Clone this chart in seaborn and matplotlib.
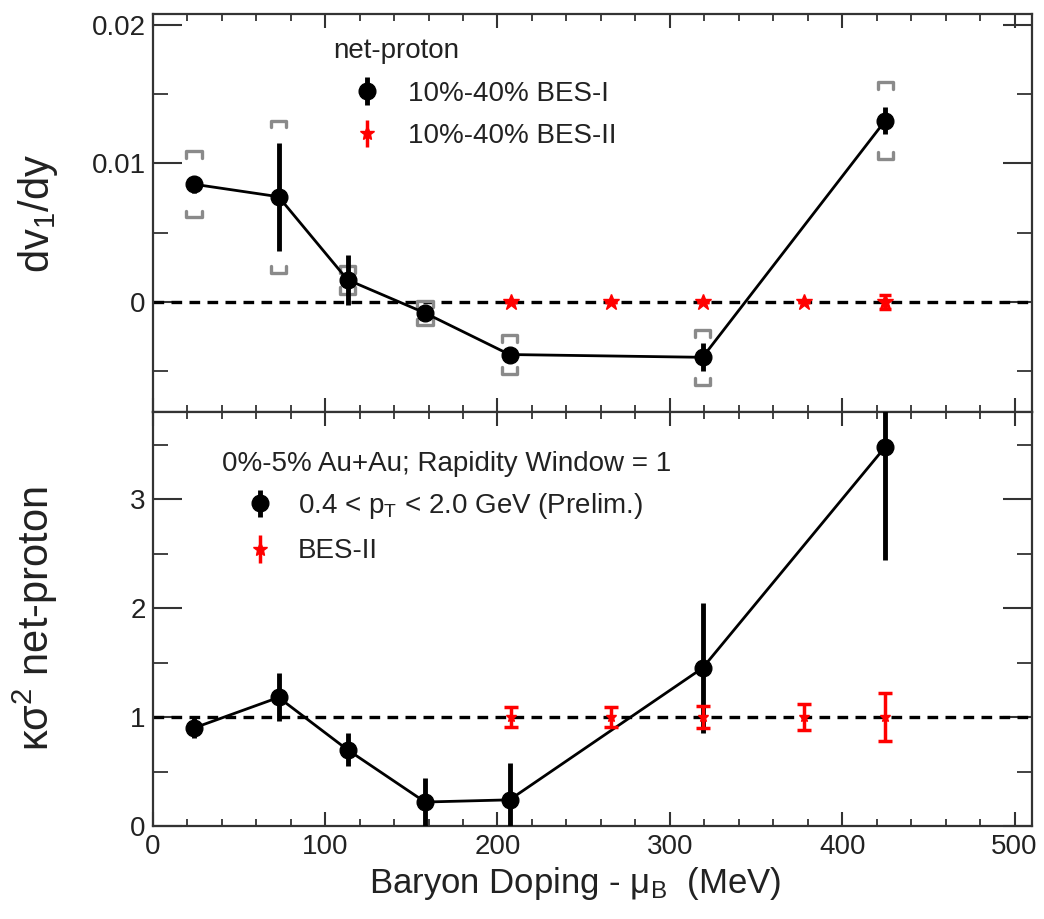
import matplotlib
matplotlib.use('Agg')
import matplotlib.pyplot as plt
from matplotlib.ticker import MultipleLocator, FuncFormatter
import seaborn as sns

# ---- top panel: dv1/dy of net-protons, 10%-40% ----
mu_b_bes1 = [24, 73, 113, 158, 207, 319, 425]
dv1dy = [0.0085, 0.0076, 0.0016, -0.0008, -0.0038, -0.0040, 0.0131]
dv1dy_stat = [0.0006, 0.0039, 0.0018, 0.0004, 0.0004, 0.0010, 0.0010]
dv1dy_sys = [0.0024, 0.0055, 0.0010, 0.0009, 0.0014, 0.0020, 0.0028]

mu_b_bes2 = [208, 266, 319, 378, 425]
dv1dy_bes2 = [0, 0, 0, 0, 0]
dv1dy_bes2_err = [0, 0, 0, 0, 0.0005]

# ---- bottom panel: kappa*sigma^2 of net-protons, 0%-5% ----
ksig2 = [0.90, 1.18, 0.70, 0.22, 0.24, 1.45, 3.48]
ksig2_err = [0.09, 0.22, 0.15, 0.22, 0.34, 0.60, 1.04]
ksig2_bes2 = [1, 1, 1, 1, 1]
ksig2_bes2_err = [0.09, 0.09, 0.10, 0.12, 0.22]

x_ticks = [0, 100, 200, 300, 400, 500]

sns.set_theme(style='ticks')
plt.rcParams['font.family'] = ['Liberation Sans', 'DejaVu Sans']
plt.rcParams['mathtext.fontset'] = 'custom'
plt.rcParams['mathtext.rm'] = 'Liberation Sans'
plt.rcParams['mathtext.it'] = 'Liberation Sans:italic'
plt.rcParams['mathtext.bf'] = 'Liberation Sans:bold'

TXT = '#222222'
FRAME = '#333333'

fig = plt.figure(figsize=(10.44, 9.19), dpi=100)
ax1 = fig.add_axes([0.1463, 0.5517, 0.8420, 0.4331])
ax2 = fig.add_axes([0.1463, 0.1012, 0.8420, 0.4505])


def style_axes(ax):
    for s in ax.spines.values():
        s.set_color(FRAME)
        s.set_linewidth(1.6)
    ax.xaxis.set_major_locator(MultipleLocator(100))
    ax.xaxis.set_minor_locator(MultipleLocator(20))
    ax.tick_params(which='both', direction='in', top=True, right=True,
                   color=FRAME, labelcolor=TXT, labelsize=20)
    ax.tick_params(axis='x', which='major', length=10, width=1.5, pad=6)
    ax.tick_params(axis='x', which='minor', length=5, width=1.3)
    ax.tick_params(axis='y', which='major', length=21, width=1.5, pad=5)
    ax.tick_params(axis='y', which='minor', length=11, width=1.3)
    ax.set_xlim(0, 510)
    ax.yaxis.set_major_formatter(FuncFormatter(lambda v, p: '0' if abs(v) < 1e-12 else f'{v:g}'))


def draw_bes1(ax, y, err):
    eb = ax.errorbar(mu_b_bes1, y, yerr=err, fmt='o', color='black', ms=12,
                     elinewidth=3.5, capsize=0, zorder=4)
    sns.lineplot(x=mu_b_bes1, y=y, color='black', lw=2, ax=ax, zorder=3,
                 legend=False, errorbar=None)
    return eb


def style_legend(lg):
    for t in lg.get_texts():
        t.set_color(TXT)
    lg.get_title().set_color(TXT)


# ---------------- top panel ----------------
style_axes(ax1)
ax1.axhline(0, color='black', ls=(0, (3.2, 2.2)), lw=2.4, zorder=1)

# systematic brackets
half_w = 4.5
leg_h = 0.0005
for x, y, s in zip(mu_b_bes1, dv1dy, dv1dy_sys):
    top, bot = y + s, y - s
    ax1.plot([x - half_w, x - half_w, x + half_w, x + half_w],
             [top - leg_h, top, top, top - leg_h], color='#8a8a8a', lw=2.4, zorder=2)
    ax1.plot([x - half_w, x - half_w, x + half_w, x + half_w],
             [bot + leg_h, bot, bot, bot + leg_h], color='#8a8a8a', lw=2.4, zorder=2)

eb1 = draw_bes1(ax1, dv1dy, dv1dy_stat)
ax1.errorbar(mu_b_bes2, dv1dy_bes2, yerr=dv1dy_bes2_err, fmt='*', color='red',
             ms=12, elinewidth=2.5, capsize=4, capthick=2.5, zorder=5)
# legend proxy for the red points (no caps, as in the original legend)
red_proxy = ax1.errorbar([], [], yerr=[], fmt='*', color='red', ms=10, elinewidth=2.5)

ax1.set_ylim(-0.00795, 0.0208)
ax1.yaxis.set_major_locator(MultipleLocator(0.01))
ax1.yaxis.set_minor_locator(MultipleLocator(0.005))
ax1.tick_params(axis='x', labelbottom=False)
ax1.set_ylabel('dv$_1$/dy', fontsize=30, color=TXT)
ax1.yaxis.set_label_coords(-0.105, 0.5)

l1 = ax1.legend(handles=[eb1, red_proxy], labels=['10%-40% BES-I', '10%-40% BES-II'],
                title='net-proton', loc='upper left', bbox_to_anchor=(0.205, 0.94),
                frameon=False, fontsize=20, title_fontsize=20, alignment='left',
                handlelength=2.45, handletextpad=0.25, labelspacing=0.6,
                borderpad=0, borderaxespad=0)
l1._legend_box.sep = 12
style_legend(l1)

# ---------------- bottom panel ----------------
style_axes(ax2)
ax2.axhline(1, color='black', ls=(0, (3.2, 2.2)), lw=2.4, zorder=1)
eb3 = draw_bes1(ax2, ksig2, ksig2_err)
ax2.errorbar(mu_b_bes2, ksig2_bes2, yerr=ksig2_bes2_err, fmt='*', color='red',
             ms=7, elinewidth=2.5, capsize=5, capthick=2.5, zorder=5)
red_proxy2 = ax2.errorbar([], [], yerr=[], fmt='*', color='red', ms=10, elinewidth=2.5)

ax2.set_ylim(0, 3.8)
ax2.yaxis.set_major_locator(MultipleLocator(1))
ax2.yaxis.set_minor_locator(MultipleLocator(0.5))
ax2.set_xticks(x_ticks)
ax2.set_ylabel('κσ$^2$ net-proton', fontsize=30, color=TXT)
ax2.yaxis.set_label_coords(-0.105, 0.5)
ax2.set_xlabel('Baryon Doping - μ$_\\mathrm{B}$  (MeV)', fontsize=25, color=TXT)
ax2.xaxis.set_label_coords(0.48, -0.095)

l2 = ax2.legend(handles=[eb3, red_proxy2],
                labels=['0.4 < p$_\\mathrm{T}$ < 2.0 GeV (Prelim.)', 'BES-II'],
                title='0%-5% Au+Au; Rapidity Window = 1', loc='upper left',
                bbox_to_anchor=(0.079, 0.905), frameon=False, fontsize=20,
                title_fontsize=20, alignment='left', handlelength=2.73,
                handletextpad=0.0, labelspacing=0.62, borderpad=0, borderaxespad=0)
l2._legend_box.sep = 10
style_legend(l2)

fig.savefig('out.png', dpi=100)
